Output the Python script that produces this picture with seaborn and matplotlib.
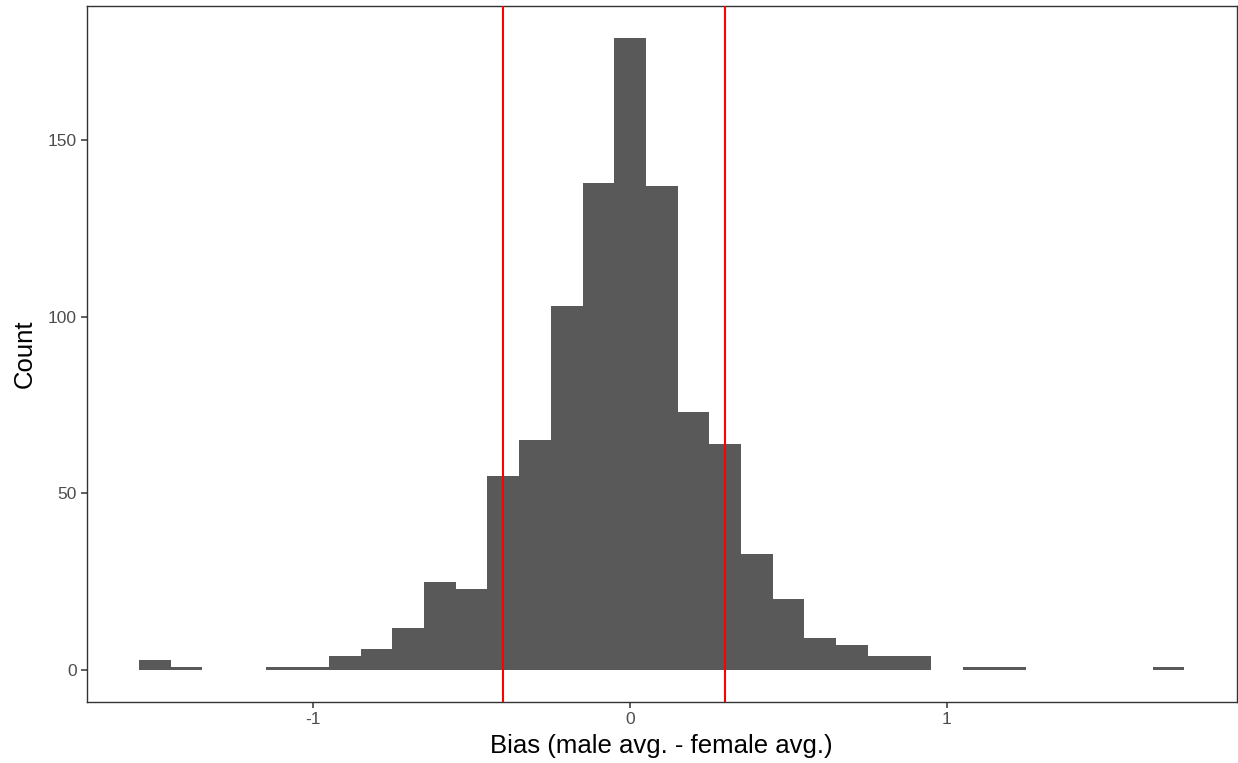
import numpy as np
import pandas as pd
import matplotlib
matplotlib.use("Agg")
import matplotlib.pyplot as plt
import seaborn as sns

# Histogram bin edges (binwidth 0.1) and counts
bin_edges = [-1.55, -1.45, -1.35, -1.25, -1.15, -1.05, -0.95, -0.85, -0.75, -0.65,
             -0.55, -0.45, -0.35, -0.25, -0.15, -0.05, 0.05, 0.15, 0.25, 0.35,
             0.45, 0.55, 0.65, 0.75, 0.85, 0.95, 1.05, 1.15, 1.25, 1.35,
             1.45, 1.55, 1.65, 1.75]
counts = [3, 1, 0, 0, 1, 1, 4, 6, 12, 25,
          23, 55, 65, 103, 138, 179, 137, 73, 64, 33,
          20, 9, 7, 4, 4, 0, 1, 1, 0, 0,
          0, 0, 1]
vlines = [-0.4, 0.3]
x_ticks = [-1, 0, 1]
y_ticks = [0, 50, 100, 150]

centers = [(bin_edges[i] + bin_edges[i + 1]) / 2 for i in range(len(counts))]
df = pd.DataFrame({"bias": centers, "n": counts})

sns.set_theme(style="white")
plt.rcParams["font.family"] = ["Liberation Sans", "DejaVu Sans"]

fig = plt.figure(figsize=(12.38, 7.63), dpi=100)
ax = fig.add_axes([0.0700, 0.0803, 0.9290, 0.9118])

sns.histplot(data=df, x="bias", weights="n", bins=bin_edges, ax=ax,
             color="#595959", alpha=1, edgecolor="none", linewidth=0)

for v in vlines:
    ax.axvline(v, color="#FF0000", linewidth=1.5, zorder=3)

lo, hi = bin_edges[0], bin_edges[-1]
pad = (hi - lo) * 0.05
ax.set_xlim(lo - pad, hi + pad)
ymax = max(counts)
ax.set_ylim(-ymax * 0.05, ymax * 1.05)

ax.set_xticks(x_ticks)
ax.set_xticklabels([str(t) for t in x_ticks])
ax.set_yticks(y_ticks)
ax.set_yticklabels([str(t) for t in y_ticks])

ax.tick_params(axis="both", which="major", length=4.3, width=1.1, color="#333333",
               labelcolor="#4D4D4D", labelsize=12.5, direction="out", pad=3,
               bottom=True, left=True)
for s in ax.spines.values():
    s.set_visible(True)
    s.set_color("#333333")
    s.set_linewidth(1.0)

ax.set_xlabel("Bias (male avg. - female avg.)", fontsize=18.5, color="black", labelpad=5)
ax.set_ylabel("Count", fontsize=18.5, color="black", labelpad=8)
ax.grid(False)

fig.savefig("out.png", dpi=100, facecolor="white")
